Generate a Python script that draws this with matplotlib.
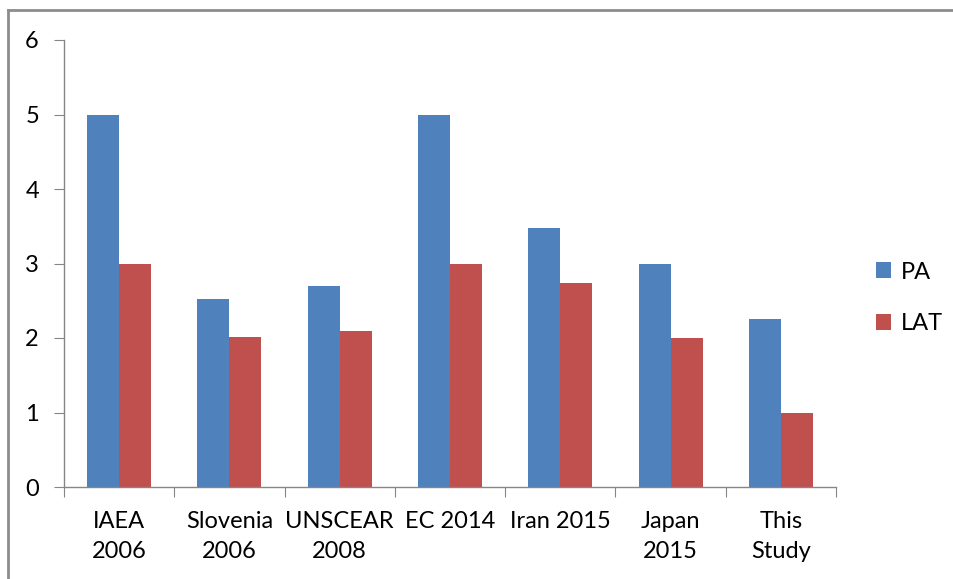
import matplotlib
matplotlib.use("Agg")
import matplotlib.pyplot as plt
import numpy as np
from matplotlib.lines import Line2D

categories = ["IAEA\n2006", "Slovenia\n2006", "UNSCEAR\n2008", "EC 2014", "Iran 2015", "Japan\n2015", "This\nStudy"]
pa_values = [5.0, 2.53, 2.7, 5.0, 3.48, 3.0, 2.25]
lat_values = [3.0, 2.02, 2.1, 3.0, 2.74, 2.0, 1.0]
series_names = ["PA", "LAT"]
yticks = [0, 1, 2, 3, 4, 5, 6]

plt.rcParams['font.family'] = ['Lato', 'DejaVu Sans']

fig = plt.figure(figsize=(9.54, 5.79), dpi=100)
ax = fig.add_axes([64/954, 1-487/579, (836-64)/954, (487-40)/579])

x = np.arange(len(categories))
w = 0.29
blue = "#4F81BD"
red = "#C0504D"
ax.bar(x - w/2, pa_values, w, color=blue, label=series_names[0], zorder=2)
ax.bar(x + w/2, lat_values, w, color=red, label=series_names[1], zorder=2)

ax.set_xlim(-0.5, len(categories) - 0.5)
ax.set_ylim(0, 6)
ax.set_yticks(yticks)
ax.set_yticklabels([str(t) for t in yticks])

ax.set_xticks(np.arange(len(categories) + 1) - 0.5)
ax.set_xticklabels([])
ax.set_xticks(x, minor=True)
ax.set_xticklabels(categories, minor=True, linespacing=1.55)

gray = "#868686"
for s in ["top", "right"]:
    ax.spines[s].set_visible(False)
for s in ["left", "bottom"]:
    ax.spines[s].set_color(gray)
    ax.spines[s].set_linewidth(1.0)

fs = 17
ax.tick_params(axis='y', which='major', length=7, color=gray, labelsize=fs, pad=11, direction='out')
ax.tick_params(axis='x', which='major', length=7, color=gray, direction='out')
ax.tick_params(axis='x', which='minor', length=0, labelsize=fs, pad=17)

ax.legend(loc='center left', bbox_to_anchor=(869/954, 1-298/579), bbox_transform=fig.transFigure,
          frameon=False, fontsize=fs, handlelength=0.65, handleheight=0.65,
          labelspacing=1.3, handletextpad=0.4, borderaxespad=0, borderpad=0.3)

# outer frame (top and left)
fig.add_artist(Line2D([8/954, 1.0], [1-10/579, 1-10/579], transform=fig.transFigure, color="#8c8c8c", lw=2))
fig.add_artist(Line2D([8/954, 8/954], [0, 1-10/579], transform=fig.transFigure, color="#8c8c8c", lw=2))

fig.savefig("out.png", dpi=100, facecolor="white")
